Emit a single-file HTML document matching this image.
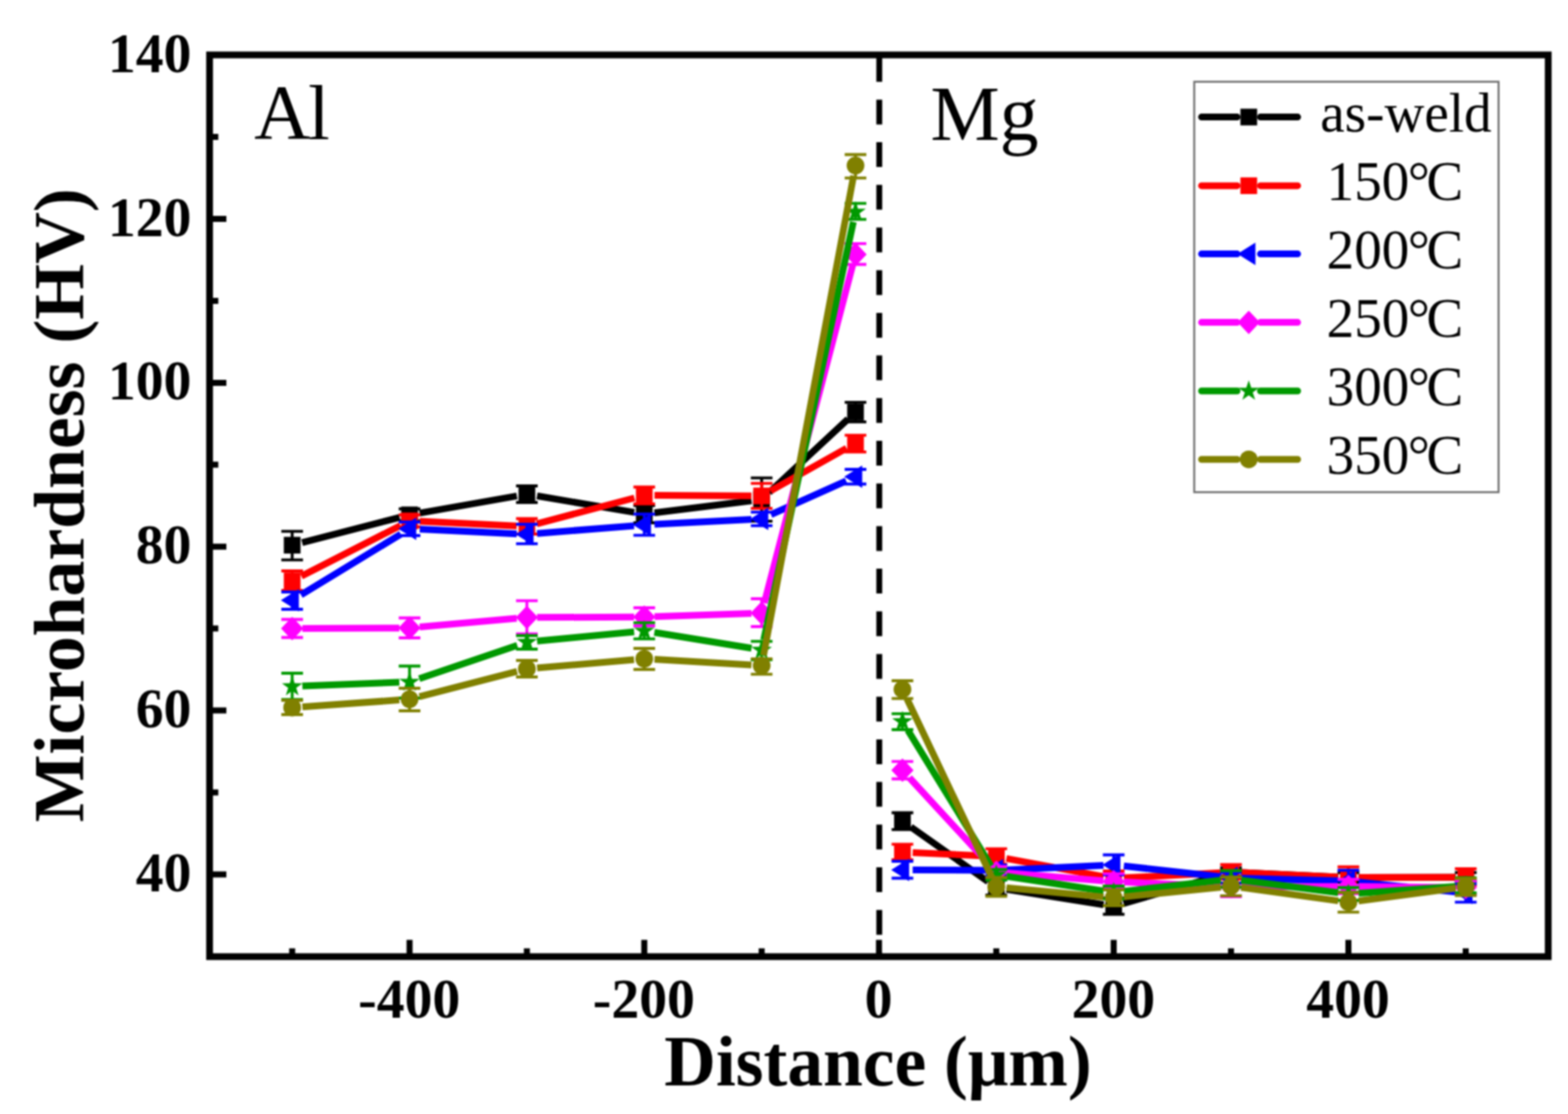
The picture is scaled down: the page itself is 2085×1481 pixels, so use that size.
<!DOCTYPE html>
<html lang="en"><head><meta charset="utf-8"><title>Microhardness vs distance</title>
<style>html,body{margin:0;padding:0;background:#fff}body{width:2085px;height:1481px;overflow:hidden}svg{display:block;filter:blur(0.8px)}text{font-family:"Liberation Serif",serif;fill:#000}.b{font-weight:bold}.tk{font-size:74px}.ti{font-size:95px}.lg{font-size:73.3px}.an{font-size:103.5px}</style>
</head><body>
<svg width="2085" height="1481" viewBox="0 0 2085 1481">
<rect width="2085" height="1481" fill="#fff"/>
<g stroke="#000000" fill="none">
<path d="M401.7 721.4L531.4 687.9M558 682.1L687.3 659.4M714.1 659.3L843.3 681.1M870.2 681.7L999.3 665.7M1022.7 654.7L1127.6 557.1M1211.1 1099.3L1313.8 1172.1M1338.3 1182.2L1467.5 1202.8M1494 1201.2L1623.9 1163.3M1650.5 1160.1L1779.4 1165.9M1806.6 1166.5L1935.5 1166.2" stroke-width="9"/>
<path d="M388.5 706.4V744.3M374.1 706.4H402.9M374.1 744.3H402.9M544.6 676.5V692.5M530.2 676.5H559M530.2 692.5H559M700.6 646V668M686.2 646H715M686.2 668H715M856.7 672V695M842.3 672H871.1M842.3 695H871.1M1012.8 635.4V692.9M998.4 635.4H1027.2M998.4 692.9H1027.2M1137.6 534.9V560.8M1123.2 534.9H1152M1123.2 560.8H1152M1200 1080.5V1102.8M1185.6 1080.5H1214.4M1185.6 1102.8H1214.4M1324.8 1170V1190M1310.4 1170H1339.2M1310.4 1190H1339.2M1480.9 1194V1215.5M1466.5 1194H1495.3M1466.5 1215.5H1495.3M1636.9 1154V1165M1622.5 1154H1651.3M1622.5 1165H1651.3M1793 1160V1173M1778.6 1160H1807.4M1778.6 1173H1807.4M1949 1160V1172M1934.6 1160H1963.5M1934.6 1172H1963.5" stroke-width="3.8"/>
</g>
<g><rect x="377.4" y="713.7" width="22.2" height="22.2" fill="#000000"/><rect x="533.5" y="673.4" width="22.2" height="22.2" fill="#000000"/><rect x="689.5" y="645.9" width="22.2" height="22.2" fill="#000000"/><rect x="845.6" y="672.3" width="22.2" height="22.2" fill="#000000"/><rect x="1001.6" y="652.9" width="22.2" height="22.2" fill="#000000"/><rect x="1126.5" y="536.7" width="22.2" height="22.2" fill="#000000"/><rect x="1188.9" y="1080.3" width="22.2" height="22.2" fill="#000000"/><rect x="1313.8" y="1168.9" width="22.2" height="22.2" fill="#000000"/><rect x="1469.8" y="1193.9" width="22.2" height="22.2" fill="#000000"/><rect x="1625.8" y="1148.4" width="22.2" height="22.2" fill="#000000"/><rect x="1781.9" y="1155.4" width="22.2" height="22.2" fill="#000000"/><rect x="1938" y="1155.1" width="22.2" height="22.2" fill="#000000"/></g>
<g stroke="#FF0000" fill="none">
<path d="M400.7 766.1L532.5 698.7M558.2 693.1L687.1 699.2M713.8 696.3L843.6 662M870.3 658.6L999.2 659.2M1024.6 652.6L1125.7 595.9M1213.6 1133.4L1311.3 1138.1M1338.2 1141.3L1467.5 1165.3M1494.5 1167.1L1623.4 1160.2M1650.5 1160.1L1779.4 1165.9M1806.6 1166.5L1935.5 1166.2" stroke-width="9"/>
<path d="M388.5 759V785M374.1 759H402.9M374.1 785H402.9M544.6 684.5V700.5M530.2 684.5H559M530.2 700.5H559M700.6 689.5V710M686.2 689.5H715M686.2 710H715M856.7 647.5V669.8M842.3 647.5H871.1M842.3 669.8H871.1M1012.8 642.6V675.9M998.4 642.6H1027.2M998.4 675.9H1027.2M1137.6 578.6V600.8M1123.2 578.6H1152M1123.2 600.8H1152M1200 1122.3V1143M1185.6 1122.3H1214.4M1185.6 1143H1214.4M1324.8 1128.4V1149M1310.4 1128.4H1339.2M1310.4 1149H1339.2M1480.9 1158V1178M1466.5 1158H1495.3M1466.5 1178H1495.3M1636.9 1149.5V1168.5M1622.5 1149.5H1651.3M1622.5 1168.5H1651.3M1793 1152.5V1178.5M1778.6 1152.5H1807.4M1778.6 1178.5H1807.4M1949 1155V1177M1934.6 1155H1963.5M1934.6 1177H1963.5" stroke-width="3.8"/>
</g>
<g><rect x="377.4" y="761.2" width="22.2" height="22.2" fill="#FF0000"/><rect x="533.5" y="681.4" width="22.2" height="22.2" fill="#FF0000"/><rect x="689.5" y="688.7" width="22.2" height="22.2" fill="#FF0000"/><rect x="845.6" y="647.4" width="22.2" height="22.2" fill="#FF0000"/><rect x="1001.6" y="648.2" width="22.2" height="22.2" fill="#FF0000"/><rect x="1126.5" y="578.1" width="22.2" height="22.2" fill="#FF0000"/><rect x="1188.9" y="1121.6" width="22.2" height="22.2" fill="#FF0000"/><rect x="1313.8" y="1127.7" width="22.2" height="22.2" fill="#FF0000"/><rect x="1469.8" y="1156.7" width="22.2" height="22.2" fill="#FF0000"/><rect x="1625.8" y="1148.4" width="22.2" height="22.2" fill="#FF0000"/><rect x="1781.9" y="1155.4" width="22.2" height="22.2" fill="#FF0000"/><rect x="1938" y="1155.1" width="22.2" height="22.2" fill="#FF0000"/></g>
<g stroke="#0000FF" fill="none">
<path d="M400.2 790.9L533 710.1M558.2 703.6L687.1 709.7M714.2 709.2L843.1 698.9M870.3 697.1L999.2 690.5M1025.2 684.2L1125.2 639.3M1213.6 1156.6L1311.3 1156.9M1338.4 1156.4L1467.3 1150.4M1494.4 1151.3L1623.4 1165.5M1650.5 1167.4L1779.4 1171.1M1806.5 1172.8L1935.5 1185.7" stroke-width="9"/>
<path d="M388.5 787V810M374.1 787H402.9M374.1 810H402.9M544.6 694V712M530.2 694H559M530.2 712H559M700.6 697V722.8M686.2 697H715M686.2 722.8H715M856.7 683.5V711.6M842.3 683.5H871.1M842.3 711.6H871.1M1012.8 680.8V698.8M998.4 680.8H1027.2M998.4 698.8H1027.2M1137.6 624V643.5M1123.2 624H1152M1123.2 643.5H1152M1200 1145V1167.5M1185.6 1145H1214.4M1185.6 1167.5H1214.4M1324.8 1150V1164M1310.4 1150H1339.2M1310.4 1164H1339.2M1480.9 1136.5V1163M1466.5 1136.5H1495.3M1466.5 1163H1495.3M1636.9 1160V1174M1622.5 1160H1651.3M1622.5 1174H1651.3M1793 1157V1186M1778.6 1157H1807.4M1778.6 1186H1807.4M1949 1175V1199.3M1934.6 1175H1963.5M1934.6 1199.3H1963.5" stroke-width="3.8"/>
</g>
<g><polygon points="373.5,798 397.4,783 397.4,813" fill="#0000FF"/><polygon points="529.6,703 553.5,688 553.5,718" fill="#0000FF"/><polygon points="685.6,710.3 709.5,695.3 709.5,725.3" fill="#0000FF"/><polygon points="841.7,697.8 865.6,682.8 865.6,712.8" fill="#0000FF"/><polygon points="997.8,689.8 1021.6,674.8 1021.6,704.8" fill="#0000FF"/><polygon points="1122.6,633.7 1146.5,618.7 1146.5,648.7" fill="#0000FF"/><polygon points="1185,1156.5 1208.9,1141.5 1208.9,1171.5" fill="#0000FF"/><polygon points="1309.8,1157 1333.8,1142 1333.8,1172" fill="#0000FF"/><polygon points="1465.9,1149.8 1489.8,1134.8 1489.8,1164.8" fill="#0000FF"/><polygon points="1621.9,1167 1645.8,1152 1645.8,1182" fill="#0000FF"/><polygon points="1778,1171.5 1801.9,1156.5 1801.9,1186.5" fill="#0000FF"/><polygon points="1934,1187 1958,1172 1958,1202" fill="#0000FF"/></g>
<g stroke="#FF00FF" fill="none">
<path d="M402.1 835.5L531 834.9M558.1 833.6L687.1 822M714.2 820.8L843.1 820.3M870.3 819.8L999.2 815.5M1016.2 801.8L1134.1 351.4M1209.2 1033.9L1315.6 1149.5M1338.4 1160.6L1467.3 1170.9M1494.5 1172.6L1623.4 1178.4M1650.5 1179L1779.4 1178.5M1806.6 1178.6L1935.5 1179.9" stroke-width="9"/>
<path d="M388.5 823.5V847.5M374.1 823.5H402.9M374.1 847.5H402.9M544.6 821.5V848M530.2 821.5H559M530.2 848H559M700.6 798.6V842.6M686.2 798.6H715M686.2 842.6H715M856.7 808V832M842.3 808H871.1M842.3 832H871.1M1012.8 796V833M998.4 796H1027.2M998.4 833H1027.2M1137.6 323.8V351.5M1123.2 323.8H1152M1123.2 351.5H1152M1200 1012.4V1035.5M1185.6 1012.4H1214.4M1185.6 1035.5H1214.4M1324.8 1152V1167M1310.4 1152H1339.2M1310.4 1167H1339.2M1480.9 1161.7V1182M1466.5 1161.7H1495.3M1466.5 1182H1495.3M1636.9 1166V1192M1622.5 1166H1651.3M1622.5 1192H1651.3M1793 1169V1188M1778.6 1169H1807.4M1778.6 1188H1807.4M1949 1171V1189M1934.6 1171H1963.5M1934.6 1189H1963.5" stroke-width="3.8"/>
</g>
<g><polygon points="388.5,820 403.3,835.6 388.5,851.2 373.7,835.6" fill="#FF00FF"/><polygon points="544.6,819.2 559.4,834.8 544.6,850.4 529.8,834.8" fill="#FF00FF"/><polygon points="700.6,805.2 715.4,820.8 700.6,836.4 685.9,820.8" fill="#FF00FF"/><polygon points="856.7,804.7 871.5,820.3 856.7,835.9 841.9,820.3" fill="#FF00FF"/><polygon points="1012.8,799.4 1027.5,815 1012.8,830.6 998,815" fill="#FF00FF"/><polygon points="1137.6,322.6 1152.4,338.2 1137.6,353.8 1122.8,338.2" fill="#FF00FF"/><polygon points="1200,1008.3 1214.8,1023.9 1200,1039.5 1185.2,1023.9" fill="#FF00FF"/><polygon points="1324.8,1143.9 1339.6,1159.5 1324.8,1175.1 1310,1159.5" fill="#FF00FF"/><polygon points="1480.9,1156.4 1495.7,1172 1480.9,1187.6 1466.1,1172" fill="#FF00FF"/><polygon points="1636.9,1163.4 1651.7,1179 1636.9,1194.6 1622.1,1179" fill="#FF00FF"/><polygon points="1793,1162.9 1807.8,1178.5 1793,1194.1 1778.2,1178.5" fill="#FF00FF"/><polygon points="1949,1164.4 1963.8,1180 1949,1195.6 1934.2,1180" fill="#FF00FF"/></g>
<g stroke="#009900" fill="none">
<path d="M402.1 912L531 907.1M557.5 902.2L687.8 857.9M714.2 852.2L843.2 839.9M870.1 840.8L999.3 861.8M1015.6 850.7L1134.7 295M1207.1 970.6L1317.8 1151.4M1338.3 1165L1467.5 1184.5M1494.4 1184.9L1623.4 1170.1M1650.4 1170.2L1779.5 1186.8M1806.6 1187.5L1935.5 1178.5" stroke-width="9"/>
<path d="M388.5 895V930M374.1 895H402.9M374.1 930H402.9M544.6 885.5V928M530.2 885.5H559M530.2 928H559M700.6 845V863M686.2 845H715M686.2 863H715M856.7 827.8V849.4M842.3 827.8H871.1M842.3 849.4H871.1M1012.8 852.7V877M998.4 852.7H1027.2M998.4 877H1027.2M1137.6 270.3V291.7M1123.2 270.3H1152M1123.2 291.7H1152M1200 948.8V970M1185.6 948.8H1214.4M1185.6 970H1214.4M1324.8 1156V1170M1310.4 1156H1339.2M1310.4 1170H1339.2M1480.9 1178V1195M1466.5 1178H1495.3M1466.5 1195H1495.3M1636.9 1157.5V1179.5M1622.5 1157.5H1651.3M1622.5 1179.5H1651.3M1793 1180V1197M1778.6 1180H1807.4M1778.6 1197H1807.4M1949 1167V1187M1934.6 1167H1963.5M1934.6 1187H1963.5" stroke-width="3.8"/>
</g>
<g><polygon points="388.5,898.4 391.8,908.3 402.2,908.4 393.9,914.5 397,924.4 388.5,918.4 380.1,924.4 383.2,914.5 374.9,908.4 385.3,908.3" fill="#009900"/><polygon points="544.6,892.5 547.9,902.4 558.3,902.5 549.9,908.6 553.1,918.5 544.6,912.5 536.1,918.5 539.3,908.6 530.9,902.5 541.3,902.4" fill="#009900"/><polygon points="700.6,839.4 703.9,849.3 714.3,849.4 706,855.5 709.1,865.4 700.6,859.4 692.2,865.4 695.3,855.5 687,849.4 697.4,849.3" fill="#009900"/><polygon points="856.7,824.5 860,834.4 870.4,834.5 862,840.6 865.2,850.5 856.7,844.5 848.2,850.5 851.4,840.6 843,834.5 853.4,834.4" fill="#009900"/><polygon points="1012.8,849.9 1016,859.8 1026.4,859.9 1018.1,866 1021.2,875.9 1012.8,869.9 1004.3,875.9 1007.4,866 999.1,859.9 1009.5,859.8" fill="#009900"/><polygon points="1137.6,267.6 1140.9,277.5 1151.3,277.6 1142.9,283.7 1146.1,293.6 1137.6,287.6 1129.1,293.6 1132.3,283.7 1123.9,277.6 1134.3,277.5" fill="#009900"/><polygon points="1200,944.9 1203.3,954.8 1213.7,954.9 1205.3,961 1208.5,970.9 1200,964.9 1191.5,970.9 1194.7,961 1186.3,954.9 1196.7,954.8" fill="#009900"/><polygon points="1324.8,1148.9 1328.1,1158.8 1338.5,1158.9 1330.2,1165 1333.3,1174.9 1324.8,1168.9 1316.4,1174.9 1319.5,1165 1311.2,1158.9 1321.6,1158.8" fill="#009900"/><polygon points="1480.9,1172.4 1484.2,1182.3 1494.6,1182.4 1486.2,1188.5 1489.4,1198.4 1480.9,1192.4 1472.4,1198.4 1475.6,1188.5 1467.2,1182.4 1477.6,1182.3" fill="#009900"/><polygon points="1636.9,1154.4 1640.2,1164.3 1650.6,1164.4 1642.3,1170.5 1645.4,1180.4 1636.9,1174.4 1628.5,1180.4 1631.6,1170.5 1623.3,1164.4 1633.7,1164.3" fill="#009900"/><polygon points="1793,1174.4 1796.3,1184.3 1806.7,1184.4 1798.3,1190.5 1801.5,1200.4 1793,1194.4 1784.5,1200.4 1787.7,1190.5 1779.3,1184.4 1789.7,1184.3" fill="#009900"/><polygon points="1949,1163.4 1952.3,1173.3 1962.7,1173.4 1954.4,1179.5 1957.5,1189.4 1949,1183.4 1940.6,1189.4 1943.7,1179.5 1935.4,1173.4 1945.8,1173.3" fill="#009900"/></g>
<g stroke="#808000" fill="none">
<path d="M402.1 939.7L531 930.6M557.8 926.2L687.5 892.6M714.2 888L843.1 877M870.3 876.6L999.2 884M1015.3 871.4L1135.1 233.5M1205.9 928.8L1319 1166.7M1338.4 1180.3L1467.4 1192.4M1494.4 1192.3L1623.4 1179.4M1650.4 1179.9L1779.5 1197.6M1806.5 1197.7L1935.6 1180.8" stroke-width="9"/>
<path d="M388.5 931V950M374.1 931H402.9M374.1 950H402.9M544.6 915V945M530.2 915H559M530.2 945H559M700.6 878V900M686.2 878H715M686.2 900H715M856.7 862V890M842.3 862H871.1M842.3 890H871.1M1012.8 875.8V896.3M998.4 875.8H1027.2M998.4 896.3H1027.2M1137.6 205.5V236.7M1123.2 205.5H1152M1123.2 236.7H1152M1200 905V928.6M1185.6 905H1214.4M1185.6 928.6H1214.4M1324.8 1166.5V1191.5M1310.4 1166.5H1339.2M1310.4 1191.5H1339.2M1480.9 1183V1204M1466.5 1183H1495.3M1466.5 1204H1495.3M1636.9 1166V1190.8M1622.5 1166H1651.3M1622.5 1190.8H1651.3M1793 1186.5V1212.6M1778.6 1186.5H1807.4M1778.6 1212.6H1807.4M1949 1168V1190.5M1934.6 1168H1963.5M1934.6 1190.5H1963.5" stroke-width="3.8"/>
</g>
<g><circle cx="388.5" cy="940.7" r="11.8" fill="#808000"/><circle cx="544.6" cy="929.6" r="11.8" fill="#808000"/><circle cx="700.6" cy="889.2" r="11.8" fill="#808000"/><circle cx="856.7" cy="875.8" r="11.8" fill="#808000"/><circle cx="1012.8" cy="884.8" r="11.8" fill="#808000"/><circle cx="1137.6" cy="220.1" r="11.8" fill="#808000"/><circle cx="1200" cy="916.5" r="11.8" fill="#808000"/><circle cx="1324.8" cy="1179" r="11.8" fill="#808000"/><circle cx="1480.9" cy="1193.7" r="11.8" fill="#808000"/><circle cx="1636.9" cy="1178" r="11.8" fill="#808000"/><circle cx="1793" cy="1199.5" r="11.8" fill="#808000"/><circle cx="1949" cy="1179" r="11.8" fill="#808000"/></g>
<line x1="1169.2" y1="75.7" x2="1169.2" y2="1271.8" stroke="#000" stroke-width="7.8" stroke-dasharray="33 23.7"/>
<g stroke="#000" stroke-width="9" fill="none">
<rect x="278.7" y="73" width="1780" height="1198.8"/>
<path stroke-width="8" d="M278.7 291H301M278.7 508.9H301M278.7 726.7H301M278.7 944.6H301M278.7 1162.4H301M278.7 182.1H290.3M278.7 399.9H290.3M278.7 617.8H290.3M278.7 835.6H290.3M278.7 1053.5H290.3M544.6 1271.8V1249.6M856.7 1271.8V1249.6M1168.8 1271.8V1249.6M1480.9 1271.8V1249.6M1793 1271.8V1249.6M388.5 1271.8V1260.8M700.6 1271.8V1260.8M1012.8 1271.8V1260.8M1324.8 1271.8V1260.8M1636.9 1271.8V1260.8M1949 1271.8V1260.8"/>
</g>
<g class="b tk" text-anchor="end">
<text x="254.5" y="95.7">140</text>
<text x="254.5" y="313.5">120</text>
<text x="254.5" y="531.4">100</text>
<text x="254.5" y="749.2">80</text>
<text x="254.5" y="967.1">60</text>
<text x="254.5" y="1184.9">40</text>
</g>
<g class="b tk" text-anchor="middle">
<text x="544.1" y="1353">-400</text>
<text x="856.2" y="1353">-200</text>
<text x="1168.3" y="1353">0</text>
<text x="1480.4" y="1353">200</text>
<text x="1792.5" y="1353">400</text>
</g>
<text class="b ti" text-anchor="middle" x="1167.5" y="1443">Distance (μm)</text>
<text class="b ti" style="font-size:95.3px" text-anchor="middle" transform="translate(111.3 671.6) rotate(-90)">Microhardness (HV)</text>
<text class="an" x="338" y="185.2">A<tspan dx="-3">l</tspan></text>
<text class="an" x="1237.3" y="185.6">Mg</text>
<rect x="1588" y="108.7" width="404.7" height="545.6" fill="#fff" stroke="#6e6e6e" stroke-width="2.6"/>
<path d="M1597.7 155.6H1645M1676 155.6H1725.5" stroke="#000000" stroke-width="9.0" stroke-linecap="round" fill="none"/>
<rect x="1649.4" y="144.5" width="22.2" height="22.2" fill="#000000"/>
<text class="lg" x="1755.5" y="174.8">as-weld</text>
<path d="M1597.7 246.9H1645M1676 246.9H1725.5" stroke="#FF0000" stroke-width="9.0" stroke-linecap="round" fill="none"/>
<rect x="1649.4" y="235.8" width="22.2" height="22.2" fill="#FF0000"/>
<text class="lg" x="1764" y="266.1">150<tspan dx="-2">°</tspan><tspan dx="-4.5">C</tspan></text>
<path d="M1597.7 337.6H1645M1676 337.6H1725.5" stroke="#0000FF" stroke-width="9.0" stroke-linecap="round" fill="none"/>
<polygon points="1645.5,337.6 1669.4,322.6 1669.4,352.6" fill="#0000FF"/>
<text class="lg" x="1764" y="356.8">200<tspan dx="-2">°</tspan><tspan dx="-4.5">C</tspan></text>
<path d="M1597.7 428.6H1645M1676 428.6H1725.5" stroke="#FF00FF" stroke-width="9.0" stroke-linecap="round" fill="none"/>
<polygon points="1660.5,413 1675.3,428.6 1660.5,444.2 1645.7,428.6" fill="#FF00FF"/>
<text class="lg" x="1764" y="447.8">250<tspan dx="-2">°</tspan><tspan dx="-4.5">C</tspan></text>
<path d="M1597.7 519.7H1645M1676 519.7H1725.5" stroke="#009900" stroke-width="9.0" stroke-linecap="round" fill="none"/>
<polygon points="1660.5,505.6 1663.8,515.5 1674.2,515.6 1665.8,521.7 1669,531.6 1660.5,525.6 1652,531.6 1655.2,521.7 1646.8,515.6 1657.2,515.5" fill="#009900"/>
<text class="lg" x="1764" y="538.9">300<tspan dx="-2">°</tspan><tspan dx="-4.5">C</tspan></text>
<path d="M1597.7 610.7H1645M1676 610.7H1725.5" stroke="#808000" stroke-width="9.0" stroke-linecap="round" fill="none"/>
<circle cx="1660.5" cy="610.7" r="11.8" fill="#808000"/>
<text class="lg" x="1764" y="629.9">350<tspan dx="-2">°</tspan><tspan dx="-4.5">C</tspan></text>
</svg>
</body></html>
